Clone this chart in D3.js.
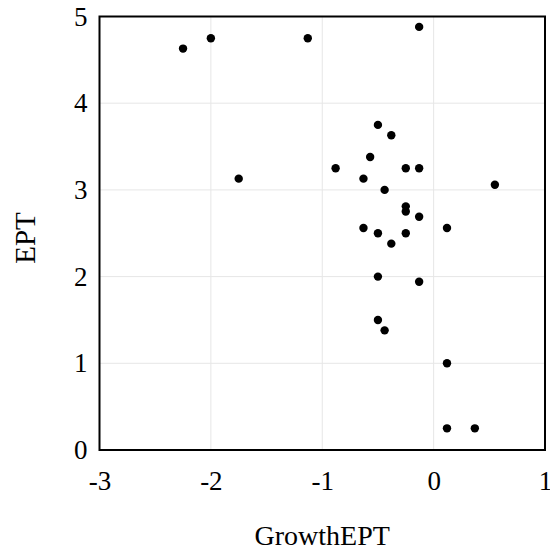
<!DOCTYPE html>
<html>
<head>
<meta charset="utf-8">
<script src="https://cdn.jsdelivr.net/npm/d3@7"></script>
<style>
  body { margin: 0; background: #fff; }
  text { font-family: "Liberation Serif", "Times New Roman", serif; fill: #000; }
</style>
</head>
<body>
<div id="chart"></div>
<script>
// data
const growthEPT = [-2.25, -2.0, -1.13, -0.13, -1.75, -0.5, -0.38, -0.57, -0.88, -0.25, -0.13,
  -0.63, -0.44, 0.55, -0.25, -0.25, -0.13, -0.63, 0.12, -0.5, -0.25, -0.38, -0.5, -0.13,
  -0.5, -0.44, 0.12, 0.12, 0.37];
const ept = [4.63, 4.75, 4.75, 4.88, 3.13, 3.75, 3.63, 3.38, 3.25, 3.25, 3.25,
  3.13, 3.0, 3.06, 2.81, 2.75, 2.69, 2.56, 2.56, 2.5, 2.5, 2.38, 2.0, 1.94,
  1.5, 1.38, 1.0, 0.25, 0.25];
const xTicks = [-3, -2, -1, 0, 1];
const yTicks = [0, 1, 2, 3, 4, 5];

const width = 550, height = 553;
const margin = {top: 16.5, right: 5, bottom: 103, left: 99.5};

const svg = d3.select('#chart').append('svg')
    .attr('width', width)
    .attr('height', height);

const x = d3.scaleLinear().domain([-3, 1]).range([margin.left, width - margin.right]);
const y = d3.scaleLinear().domain([0, 5]).range([height - margin.bottom, margin.top]);

// grid lines
svg.append('g').selectAll('line')
    .data(xTicks.slice(1, -1)).join('line')
    .attr('x1', d => x(d)).attr('x2', d => x(d))
    .attr('y1', y(0)).attr('y2', y(5))
    .attr('stroke', '#e6e6e6').attr('stroke-width', 1);
svg.append('g').selectAll('line')
    .data(yTicks.slice(1, -1)).join('line')
    .attr('x1', x(-3)).attr('x2', x(1))
    .attr('y1', d => y(d)).attr('y2', d => y(d))
    .attr('stroke', '#e6e6e6').attr('stroke-width', 1);

// axes (labels only, no tick marks)
const xAxis = svg.append('g')
    .attr('transform', `translate(0,${y(0)})`)
    .call(d3.axisBottom(x).tickValues(xTicks).tickFormat(d => d < 0 ? '-' + Math.abs(d) : d).tickSize(0));
const yAxis = svg.append('g')
    .attr('transform', `translate(${x(-3)},0)`)
    .call(d3.axisLeft(y).tickValues(yTicks).tickFormat(d3.format('d')).tickSize(0).tickPadding(12));
xAxis.select('.domain').remove();
yAxis.select('.domain').remove();
xAxis.selectAll('text')
    .style('font-size', '27px').style('font-family', 'Liberation Serif')
    .attr('y', 40).attr('dy', 0);
yAxis.selectAll('text')
    .style('font-size', '27px').style('font-family', 'Liberation Serif');

// frame
svg.append('rect')
    .attr('x', x(-3)).attr('y', y(5))
    .attr('width', x(1) - x(-3)).attr('height', y(0) - y(5))
    .attr('fill', 'none').attr('stroke', '#000').attr('stroke-width', 2);

// points
svg.append('g').selectAll('circle')
    .data(d3.range(growthEPT.length)).join('circle')
    .attr('cx', i => x(growthEPT[i]))
    .attr('cy', i => y(ept[i]))
    .attr('r', 4.2)
    .attr('fill', '#000');

// titles
svg.append('text')
    .attr('x', (x(-3) + x(1)) / 2).attr('y', 545)
    .attr('text-anchor', 'middle').style('font-size', '28px')
    .text('GrowthEPT');
svg.append('text')
    .attr('transform', `translate(35,238) rotate(-90)`)
    .attr('text-anchor', 'middle').style('font-size', '29px')
    .text('EPT');
</script>
</body>
</html>
